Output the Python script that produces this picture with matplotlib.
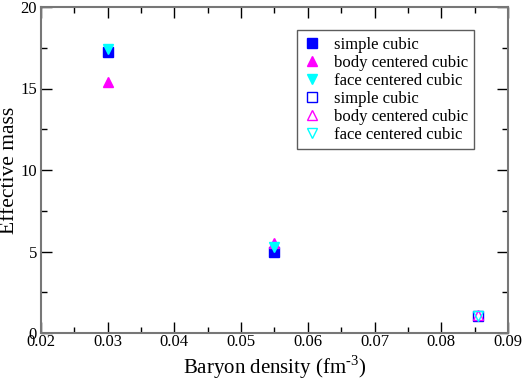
import matplotlib
matplotlib.use("Agg")
import matplotlib.pyplot as plt
from matplotlib.ticker import MultipleLocator

plt.rcParams['font.family'] = ['Liberation Serif', 'DejaVu Serif']
plt.rcParams['mathtext.fontset'] = 'custom'
plt.rcParams['mathtext.rm'] = 'Liberation Serif'

labels = ["simple cubic", "body centered cubic", "face centered cubic"]
colors = ["#0000ff", "#ff00ff", "#00ffff"]
markers = ["s", "^", "v"]

# filled series
x_filled = [0.030, 0.055]
sc_filled = [17.25, 5.0]
bcc_filled = [15.4, 5.55]
fcc_filled = [17.45, 5.3]

# open series
x_open = [0.0855]
sc_open = [1.05]
bcc_open = [1.08]
fcc_open = [1.05]

fig = plt.figure(figsize=(5.23, 3.82), dpi=100)
ax = fig.add_axes([41/523, 1-333/382, 467/523, 326/382])

for y, c, m, l in zip([sc_filled, bcc_filled, fcc_filled], colors, markers, labels):
    ax.plot(x_filled, y, linestyle='none', marker=m, color=c, markersize=7, label=l)
for y, c, m, l in zip([sc_open, bcc_open, fcc_open], colors, markers, labels):
    ax.plot(x_open, y, linestyle='none', marker=m, markerfacecolor='none',
            markeredgecolor=c, markersize=7, markeredgewidth=1.0, label=l)

ax.set_xlim(0.02, 0.09)
ax.set_ylim(0, 20)
ax.xaxis.set_major_locator(MultipleLocator(0.01))
ax.xaxis.set_minor_locator(MultipleLocator(0.005))
ax.yaxis.set_major_locator(MultipleLocator(5))
ax.yaxis.set_minor_locator(MultipleLocator(2.5))
ax.set_xticklabels([f"{v:.2f}" for v in ax.get_xticks()])
ax.tick_params(which='both', direction='in', top=True, right=True, labelsize=12,
               pad=1, color='black')
ax.tick_params(axis='y', pad=3)
ax.tick_params(which='major', length=8, width=1)
ax.tick_params(which='minor', length=4.5, width=1)
for s in ax.spines.values():
    s.set_color('#777777')
    s.set_linewidth(1.5)

ax.set_xlabel(r"Baryon density (fm$^{\text{-3}}$)", fontsize=15, labelpad=2)
ax.set_ylabel("Effective mass", fontsize=15.5)
ax.yaxis.set_label_coords(-0.047, 0.5)

leg = ax.legend(loc='upper left', bbox_to_anchor=((297-41)/467, (333-30)/326),
                fontsize=12, frameon=True, fancybox=False, edgecolor='#333333',
                handlelength=1.0, handletextpad=0.8, labelspacing=0.12,
                borderpad=0.4, borderaxespad=0)
leg.get_frame().set_linewidth(1.0)

fig.savefig("out.png", dpi=100)
